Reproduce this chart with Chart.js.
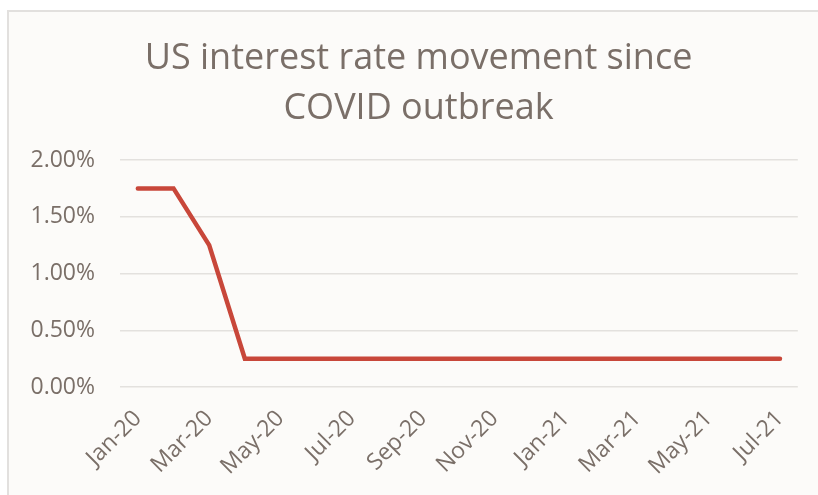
<!DOCTYPE html>
<html>
<head>
<meta charset="utf-8">
<script src="https://cdn.jsdelivr.net/npm/chart.js@4/dist/chart.umd.min.js"></script>
<style>
  html, body { margin: 0; padding: 0; background: #ffffff; width: 818px; height: 495px; overflow: hidden; }
  #frame { position: absolute; left: 7px; top: 10px; width: 811px; height: 485px;
           border-left: 2px solid #e2e0de; border-top: 2px solid #e2e0de; background: #fcfbf9; }
  #c { position: absolute; left: 0; top: 0; }
</style>
</head>
<body>
<div id="frame"><canvas id="c" width="809" height="483"></canvas></div>
<script>
const titleLines = ["US interest rate movement since", "COVID outbreak"];
const months = ["Jan-20","Feb-20","Mar-20","Apr-20","May-20","Jun-20","Jul-20","Aug-20","Sep-20","Oct-20",
                "Nov-20","Dec-20","Jan-21","Feb-21","Mar-21","Apr-21","May-21","Jun-21","Jul-21"];
const rates = [1.75, 1.75, 1.25, 0.25, 0.25, 0.25, 0.25, 0.25, 0.25, 0.25,
               0.25, 0.25, 0.25, 0.25, 0.25, 0.25, 0.25, 0.25, 0.25];
const yTicks = [0, 0.5, 1.0, 1.5, 2.0];

const textColor = "#7a6f68";
const gridColor = "#e3e1de";
const lineColor = "#c8473a";

// widen the y-axis label box to the canvas edge so labels are not clipped
const labelBoxFix = {
  id: "labelBoxFix",
  afterLayout(chart) { chart.scales.y.left = 0; }
};

new Chart(document.getElementById("c"), {
  type: "line",
  data: {
    labels: months,
    datasets: [{
      data: rates,
      borderColor: lineColor,
      borderWidth: 4.5,
      borderCapStyle: "round",
      borderJoinStyle: "miter",
      pointRadius: 0,
      tension: 0,
      fill: false
    }]
  },
  plugins: [labelBoxFix],
  options: {
    responsive: false,
    animation: false,
    devicePixelRatio: 1,
    layout: { padding: { left: 29, right: 19, top: 0, bottom: 0 } },
    plugins: {
      legend: { display: false },
      tooltip: { enabled: false },
      title: {
        display: true,
        text: titleLines,
        color: textColor,
        font: { family: "'Open Sans'", size: 36, weight: 400, lineHeight: "50px" },
        padding: { top: 22, bottom: 26 }
      }
    },
    scales: {
      x: {
        offset: true,
        grid: { display: false, drawTicks: false },
        border: { display: false },
        afterFit: s => { s.height = 108; },
        ticks: {
          autoSkip: false,
          minRotation: 45,
          maxRotation: 45,
          padding: 18,
          color: textColor,
          font: { family: "'Open Sans'", size: 23 },
          callback: function(v, i) { return i % 2 === 0 ? months[i] : ""; }
        }
      },
      y: {
        min: yTicks[0],
        max: yTicks[yTicks.length - 1],
        afterFit: s => { s.width = 82; },
        afterBuildTicks: s => { s.ticks = yTicks.map(v => ({ value: v })); },
        grid: { color: gridColor, lineWidth: 1.5, drawTicks: false },
        border: { display: false },
        ticks: {
          padding: 25,
          color: textColor,
          font: { family: "'Open Sans'", size: 23 },
          callback: v => v.toFixed(2) + "%"
        }
      }
    }
  }
});
</script>
</body>
</html>
